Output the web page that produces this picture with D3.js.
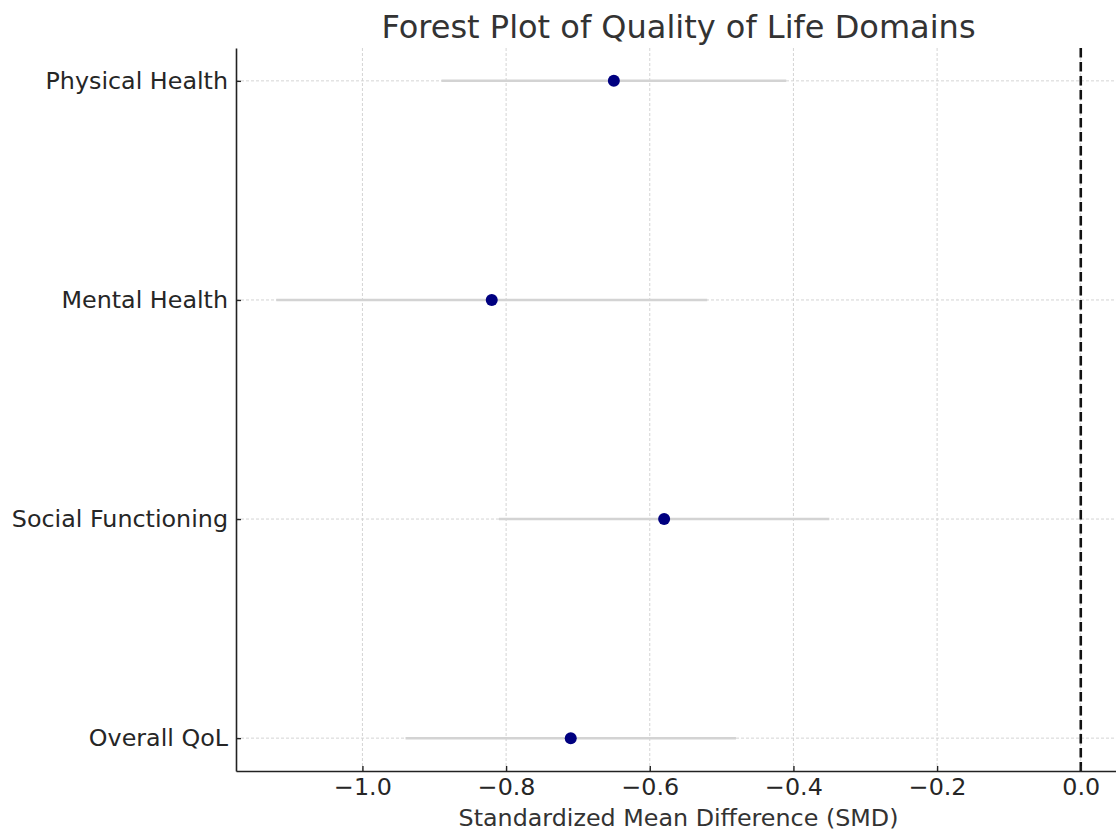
<!DOCTYPE html>
<html>
<head>
<meta charset="utf-8">
<script src="https://cdn.jsdelivr.net/npm/d3@7"></script>
<style>
  body { margin: 0; background: #fff; }
  text { font-family: "DejaVu Sans", sans-serif; }
</style>
</head>
<body>
<svg id="chart" width="1116" height="833"></svg>
<script>
// domains, top to bottom
const categories = ['Physical Health', 'Mental Health', 'Social Functioning', 'Overall QoL'];
const smd = [-0.65, -0.82, -0.58, -0.71];
const ciLower = [-0.89, -1.12, -0.81, -0.94];
const ciUpper = [-0.41, -0.52, -0.35, -0.48];
const xTicks = [-1.0, -0.8, -0.6, -0.4, -0.2, 0.0];

const margin = { top: 48, right: -5, bottom: 62, left: 236 };
const width = 1116, height = 833;

const svg = d3.select('#chart');

// matplotlib-like padding: data range [-1.12, 0] + 5%
const xScale = d3.scaleLinear()
  .domain([-1.176, 0.056])
  .range([margin.left, width - margin.right]);

const yScale = d3.scaleLinear()
  .domain([-0.15, categories.length - 1 + 0.15])
  .range([margin.top, height - margin.bottom]);

const plotTop = margin.top, plotBottom = height - margin.bottom;

// grid
const grid = svg.append('g');
grid.selectAll('.vgrid')
  .data(xTicks)
  .enter()
  .append('line')
  .attr('x1', d => xScale(d)).attr('x2', d => xScale(d))
  .attr('y1', plotTop).attr('y2', plotBottom)
  .attr('stroke', '#d4d4d4').attr('stroke-width', 1)
  .attr('stroke-dasharray', '3,2');

grid.selectAll('.hgrid')
  .data(categories)
  .enter()
  .append('line')
  .attr('x1', margin.left).attr('x2', width)
  .attr('y1', (d, i) => yScale(i)).attr('y2', (d, i) => yScale(i))
  .attr('stroke', '#d4d4d4').attr('stroke-width', 1)
  .attr('stroke-dasharray', '3,2');

// confidence intervals
svg.selectAll('.ci')
  .data(categories)
  .enter()
  .append('line')
  .attr('x1', (d, i) => xScale(ciLower[i]))
  .attr('x2', (d, i) => xScale(ciUpper[i]))
  .attr('y1', (d, i) => yScale(i)).attr('y2', (d, i) => yScale(i))
  .attr('stroke', '#d3d3d3').attr('stroke-width', 2.5);

// zero line
svg.append('line')
  .attr('x1', xScale(0)).attr('x2', xScale(0))
  .attr('y1', plotTop).attr('y2', plotBottom)
  .attr('stroke', '#111').attr('stroke-width', 2.6)
  .attr('stroke-dasharray', '9.5,4.5');

// point estimates
svg.selectAll('.pt')
  .data(categories)
  .enter()
  .append('circle')
  .attr('cx', (d, i) => xScale(smd[i]))
  .attr('cy', (d, i) => yScale(i))
  .attr('r', 6)
  .attr('fill', '#000080');

// axes (ticks pointing inward)
const xAxis = d3.axisBottom(xScale)
  .tickValues(xTicks)
  .tickFormat(d => d3.format('.1f')(d).replace('-', '\u2212'))
  .tickSizeInner(-5).tickSizeOuter(0).tickPadding(7);

const yAxis = d3.axisLeft(d3.scaleLinear().domain(yScale.domain()).range(yScale.range()))
  .tickValues(d3.range(categories.length))
  .tickFormat(i => categories[i])
  .tickSizeInner(-5).tickSizeOuter(0).tickPadding(8);

const gx = svg.append('g')
  .attr('transform', `translate(0,${plotBottom})`)
  .call(xAxis);
const gy = svg.append('g')
  .attr('transform', `translate(${margin.left},0)`)
  .call(yAxis);

[gx, gy].forEach(g => {
  g.select('.domain').attr('stroke', '#222').attr('stroke-width', 1.6);
  g.selectAll('.tick line').attr('stroke', '#222').attr('stroke-width', 1.4);
  g.selectAll('.tick text')
    .attr('fill', '#262626')
    .style('font-size', '23.8px')
    .style('font-family', '"DejaVu Sans", sans-serif');
});

// title and axis label
svg.append('text')
  .attr('x', (margin.left + width - margin.right) / 2)
  .attr('y', 38)
  .attr('text-anchor', 'middle')
  .attr('fill', '#333')
  .style('font-size', '32px')
  .text('Forest Plot of Quality of Life Domains');

svg.append('text')
  .attr('x', (margin.left + width - margin.right) / 2)
  .attr('y', 826)
  .attr('text-anchor', 'middle')
  .attr('fill', '#333')
  .style('font-size', '23.8px')
  .text('Standardized Mean Difference (SMD)');
</script>
</body>
</html>
